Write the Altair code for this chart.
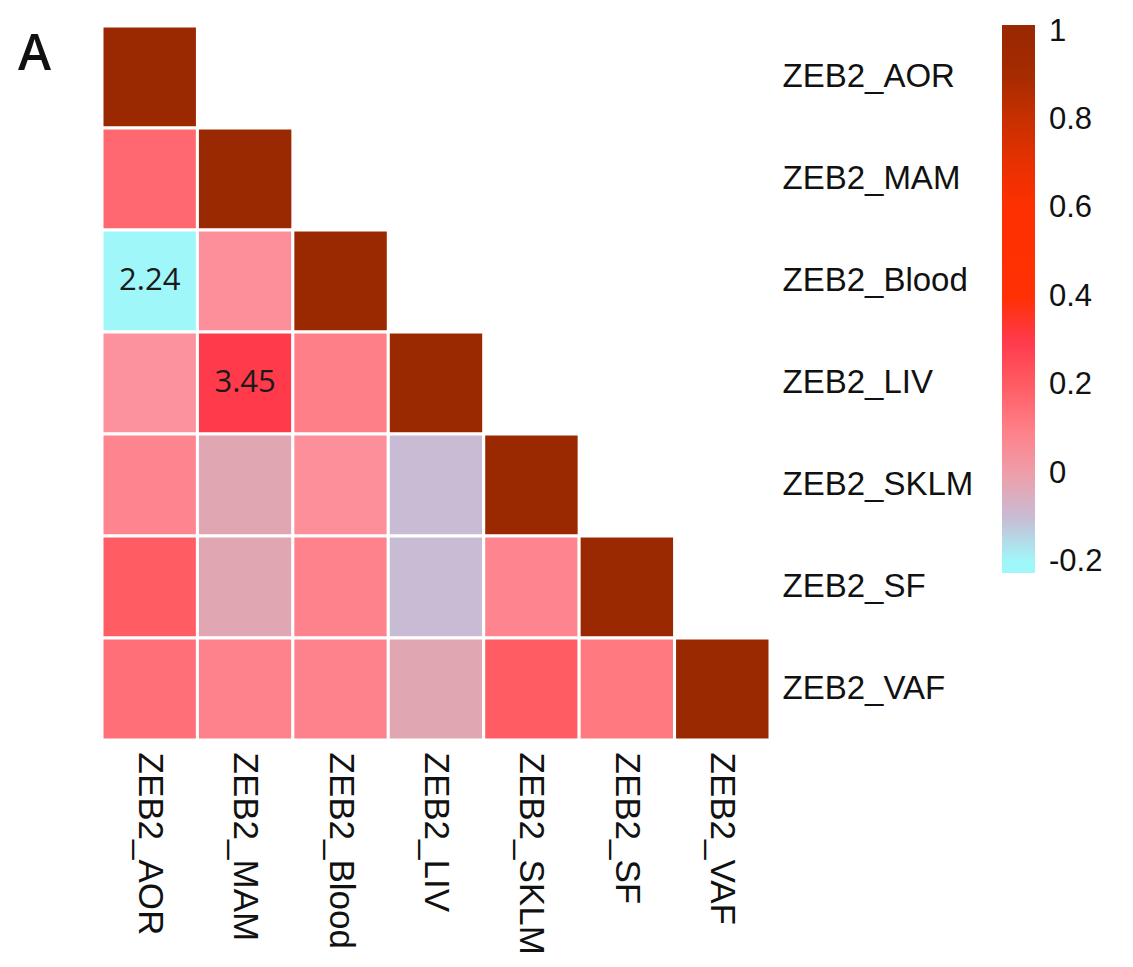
import altair as alt
import pandas as pd

labels = ["ZEB2_AOR", "ZEB2_MAM", "ZEB2_Blood", "ZEB2_LIV", "ZEB2_SKLM", "ZEB2_SF", "ZEB2_VAF"]

# lower-triangle correlation values, row by row
row_AOR = [1.0]
row_MAM = [0.17, 1.0]
row_Blood = [-0.20, 0.05, 1.0]
row_LIV = [0.04, 0.30, 0.10, 1.0]
row_SKLM = [0.08, -0.03, 0.05, -0.10, 1.0]
row_SF = [0.20, -0.03, 0.09, -0.10, 0.08, 1.0]
row_VAF = [0.15, 0.09, 0.09, -0.03, 0.20, 0.12, 1.0]
rows = [row_AOR, row_MAM, row_Blood, row_LIV, row_SKLM, row_SF, row_VAF]

# annotated cells: (row label, column label, text)
annot_rows = ["ZEB2_Blood", "ZEB2_LIV"]
annot_cols = ["ZEB2_AOR", "ZEB2_MAM"]
annot_text = ["2.24", "3.45"]

panel_label = ["A"]

legend_values = [-0.2, 0, 0.2, 0.4, 0.6, 0.8, 1]

color_stops = [-0.225, -0.2, -0.16, -0.13, -0.1, -0.06, -0.03, 0.03, 0.1, 0.16, 0.21,
               0.27, 0.34, 0.36, 0.45, 0.6, 0.7, 0.8, 0.88, 1.0, 1.015]
color_range = ["#9ff7fa", "#9ff7fa", "#a8eef8", "#b8d8ee", "#c8bcd4", "#d5aabb", "#e0a6b2",
               "#fa95a0", "#ff7f88", "#ff6c74", "#ff5860", "#ff4050", "#ff3045", "#ff3008",
               "#ff3000", "#ff3000", "#e83000", "#c83000", "#a82c00", "#9a2800", "#9a2800"]

recs = []
for i, r in enumerate(rows):
    for j, v in enumerate(r):
        recs.append({"row": labels[i], "col": labels[j], "value": v})
df = pd.DataFrame(recs)
ann = pd.DataFrame({"row": annot_rows, "col": annot_cols, "text": annot_text})
lab = pd.DataFrame({"text": panel_label})

xenc = alt.X("col:N", sort=labels, title=None,
             axis=alt.Axis(orient="bottom", labelAngle=90, labelAlign="left", labelBaseline="middle",
                           ticks=False, domain=False, labelPadding=12, labelFontSize=35,
                           labelLimit=0, labelFont="Liberation Sans", labelColor="#111111"))
yenc = alt.Y("row:N", sort=labels, title=None,
             axis=alt.Axis(orient="right", labelAlign="left", ticks=False, domain=False,
                           labelPadding=12, labelFontSize=33, labelLimit=0,
                           labelFont="Liberation Sans", labelColor="#111111"))

heat = alt.Chart(df).mark_rect(stroke="white", strokeWidth=3).encode(
    x=xenc,
    y=yenc,
    color=alt.Color("value:Q",
                    scale=alt.Scale(domain=color_stops, range=color_range, clamp=True),
                    legend=alt.Legend(title=None, orient="none", legendX=900, legendY=-1,
                                      direction="vertical", gradientLength=548,
                                      gradientThickness=33, gradientStrokeWidth=0,
                                      values=legend_values, labelExpr="datum.value + ''",
                                      labelFontSize=31, labelFont="Liberation Sans",
                                      labelLimit=0, labelColor="#111111", labelOffset=14)),
)

text = alt.Chart(ann).mark_text(fontSize=31, font="Open Sans", color="#1a1a1a").encode(
    x=alt.X("col:N", sort=labels),
    y=alt.Y("row:N", sort=labels),
    text="text:N",
)

panel = alt.Chart(lab).mark_text(fontSize=50, font="Open Sans", fontWeight=600, color="#111111",
                                 align="left", baseline="alphabetic").encode(
    x=alt.value(-84),
    y=alt.value(44),
    text="text:N",
)

chart = alt.layer(heat, text, panel).properties(
    width=668, height=714,
    background="white",
    autosize=alt.AutoSizeParams(type="none"),
    padding={"left": 94, "top": 18, "right": 355, "bottom": 219},
).configure_view(strokeWidth=0, stroke="transparent")

chart.save("out.html", embed_options={"renderer": "svg", "actions": False})
